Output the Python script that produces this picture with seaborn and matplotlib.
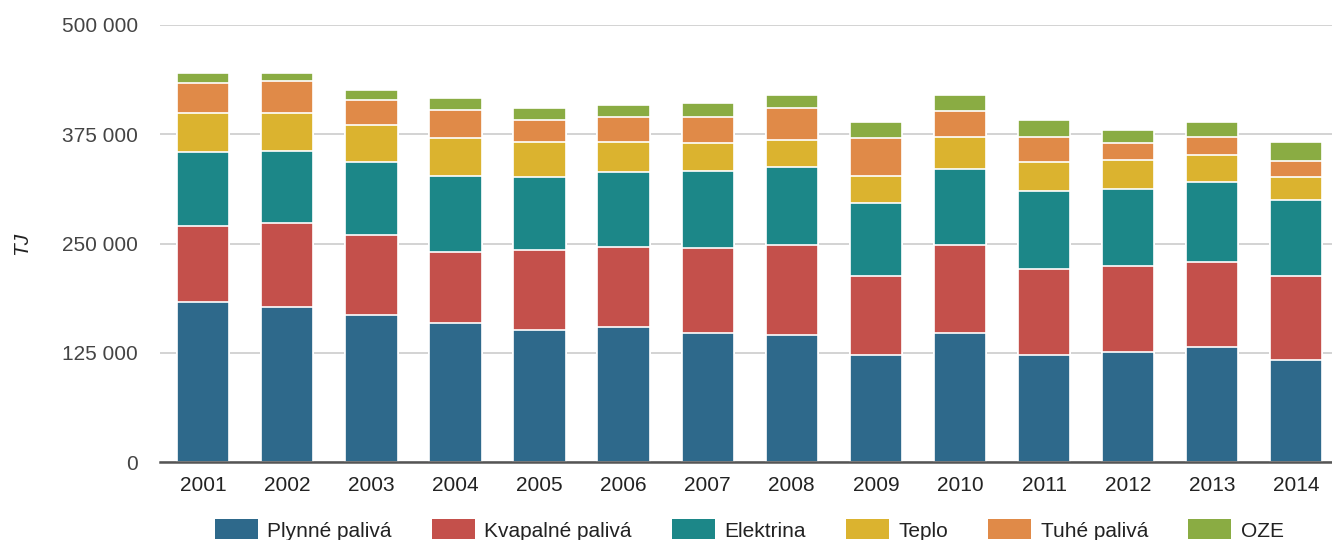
import numpy as np
import pandas as pd
import matplotlib
matplotlib.use("Agg")
import matplotlib.pyplot as plt
from matplotlib.patches import Patch
import seaborn as sns

# Data (TJ)
roky = ["2001", "2002", "2003", "2004", "2005", "2006", "2007",
        "2008", "2009", "2010", "2011", "2012", "2013", "2014"]

plynne = [183600, 177900, 168200, 158600, 150900, 154800, 147100,
          145600, 122100, 147100, 122100, 126000, 131800, 116400]
kvapalne = [86000, 95100, 91000, 81800, 91800, 91400, 97600,
            102500, 91000, 101000, 98700, 98600, 96800, 96700]
elektrina = [84900, 83400, 83800, 87200, 83300, 85600, 88700,
             89400, 83800, 87600, 89100, 87600, 91300, 87200]
teplo = [44500, 42600, 42600, 42600, 40300, 34500, 31100,
         31100, 30700, 36400, 33400, 33100, 31100, 25400]
tuhe = [35000, 36900, 29100, 32700, 25400, 28800, 30600,
        36600, 42600, 29300, 28800, 19200, 21100, 19200]
oze = [11500, 9600, 11200, 13400, 13100, 13500, 15500,
       14900, 18800, 18700, 19200, 15300, 17300, 21100]

nazvy = ["Plynné palivá", "Kvapalné palivá", "Elektrina", "Teplo", "Tuhé palivá", "OZE"]
farby = ["#2E698B", "#C4504B", "#1C8788", "#DBB32F", "#E08A48", "#8AAC43"]

sns.set_theme(style="white")
plt.rcParams["font.family"] = ["Liberation Sans", "DejaVu Sans"]

df = pd.DataFrame({"rok": roky, "Plynné palivá": plynne, "Kvapalné palivá": kvapalne,
                   "Elektrina": elektrina, "Teplo": teplo, "Tuhé palivá": tuhe, "OZE": oze})
kumul = df[nazvy].cumsum(axis=1)

fig = plt.figure(figsize=(13.32, 5.4), dpi=100)
ax = fig.add_axes([160 / 1332, 1 - 462 / 540, 1172 / 1332, 437 / 540])

# stacked bars: draw cumulative totals from top series down
for nazov, farba in reversed(list(zip(nazvy, farby))):
    sns.barplot(x=df["rok"], y=kumul[nazov], color=farba, width=0.622,
                edgecolor="white", linewidth=1.2, saturation=1, ax=ax, zorder=3)

ax.set_ylim(0, 500000)
ax.set_xlim(-0.514, 13.425)
ax.set_yticks([0, 125000, 250000, 375000, 500000])
ax.set_yticklabels(["0", "125 000", "250 000", "375 000", "500 000"])
ax.yaxis.grid(True, color="#cccccc", linewidth=1.2, zorder=0)
ax.xaxis.grid(False)
ax.set_axisbelow(True)
for s in ["top", "right", "left"]:
    ax.spines[s].set_visible(False)
ax.spines["bottom"].set_color("#555555")
ax.spines["bottom"].set_linewidth(1.8)
ax.spines["bottom"].set_zorder(4)

ax.tick_params(axis="y", length=0, pad=16, labelsize=15, labelcolor="#444444")
ax.tick_params(axis="x", length=0, pad=10, labelsize=15, labelcolor="#222222")
ax.set_xlabel("")
ax.set_ylabel("TJ", fontsize=15, fontstyle="italic", color="#222222", labelpad=22)

handles = [Patch(facecolor=f, edgecolor="none", label=n) for n, f in zip(nazvy, farby)]
fig.legend(handles=handles, loc="center", bbox_to_anchor=(0.5625, 0.0185), ncol=6,
           frameon=False, fontsize=15, handlelength=2.07, handleheight=1.1,
           handletextpad=0.45, columnspacing=1.92, labelcolor="#222222")

fig.savefig("out.png", dpi=100)
